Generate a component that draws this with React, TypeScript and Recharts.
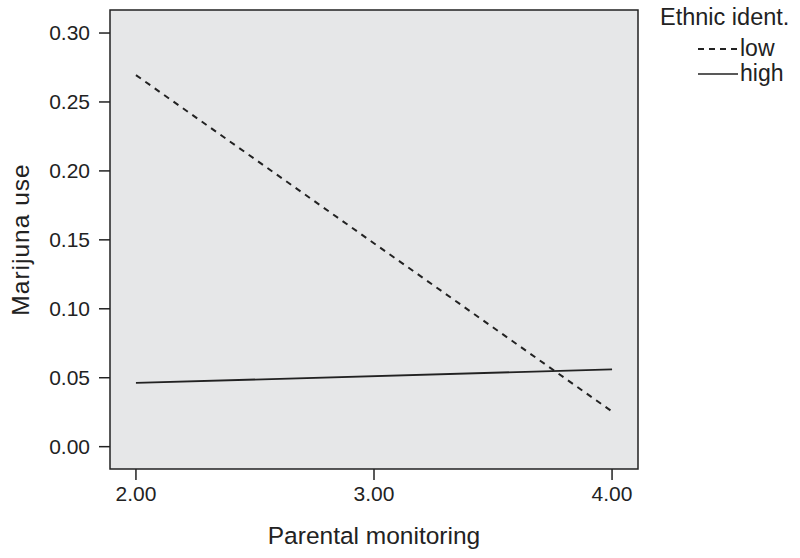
import {
  CartesianGrid,
  Line,
  LineChart,
  ReferenceArea,
  XAxis,
  YAxis,
} from 'recharts'

const monitoring = [2, 4]
const lowIdent = [0.2695, 0.0255]
const highIdent = [0.0462, 0.0561]
const xTicks = [2, 3, 4]
const yTicks = [0, 0.05, 0.1, 0.15, 0.2, 0.25, 0.3]

const X_DOMAIN: [number, number] = [1.891, 4.109]
const Y_DOMAIN: [number, number] = [-0.0162, 0.3167]

const data = monitoring.map((m, i) => ({ m, low: lowIdent[i], high: highIdent[i] }))

const FONT = 'Liberation Sans, Arial, Helvetica, sans-serif'
const INK = '#222'

function LegendBox() {
  const row = { display: 'flex', alignItems: 'center', paddingLeft: 38, height: 25, lineHeight: '25px' }
  return (
    <div
      style={{
        position: 'absolute',
        left: 660,
        top: 4,
        fontFamily: FONT,
        color: INK,
        fontSize: 23,
      }}
    >
      <div style={{ lineHeight: '27px', fontSize: 23.5 }}>Ethnic ident.</div>
      <div style={{ ...row, marginTop: 5 }}>
        <svg width={40} height={10}>
          <line x1={0} y1={5} x2={40} y2={5} stroke={INK} strokeWidth={1.8} strokeDasharray="6 5" />
        </svg>
        <span style={{ marginLeft: 2 }}>low</span>
      </div>
      <div style={row}>
        <svg width={40} height={10}>
          <line x1={0} y1={5} x2={40} y2={5} stroke={INK} strokeWidth={1.6} />
        </svg>
        <span style={{ marginLeft: 2 }}>high</span>
      </div>
    </div>
  )
}

export default function App() {
  return (
    <div style={{ position: 'absolute', left: 0, top: 0, width: 800, height: 558, background: '#fff' }}>
      <LineChart
        width={800}
        height={558}
        data={data}
        margin={{ top: 10, right: 162, bottom: 0, left: 0 }}
      >
        <CartesianGrid horizontal={false} vertical={false} fill="#e6e7e8" />
        <ReferenceArea
          x1={X_DOMAIN[0]}
          x2={X_DOMAIN[1]}
          y1={Y_DOMAIN[0]}
          y2={Y_DOMAIN[1]}
          fill="none"
          stroke={INK}
          strokeWidth={1.5}
          ifOverflow="visible"
        />
        <XAxis
          dataKey="m"
          type="number"
          domain={X_DOMAIN}
          ticks={xTicks}
          tickFormatter={(v: number) => v.toFixed(2)}
          height={89}
          tickSize={11}
          tickMargin={6}
          axisLine={false}
          tickLine={{ stroke: INK, strokeWidth: 1.5 }}
          tick={{ fontSize: 21, fill: INK, fontFamily: FONT }}
          label={{
            value: 'Parental monitoring',
            position: 'insideBottom',
            offset: 14,
            style: { fontSize: 24.5, fill: INK, fontFamily: FONT },
          }}
        />
        <YAxis
          type="number"
          domain={Y_DOMAIN}
          ticks={yTicks}
          tickFormatter={(v: number) => v.toFixed(2)}
          width={110}
          tickSize={11}
          tickMargin={9}
          axisLine={false}
          tickLine={{ stroke: INK, strokeWidth: 1.5 }}
          tick={{ fontSize: 21, fill: INK, fontFamily: FONT }}
          label={{
            value: 'Marijuna use',
            angle: -90,
            position: 'insideLeft',
            offset: 20,
            style: { fontSize: 24.5, fill: INK, fontFamily: FONT, textAnchor: 'middle', letterSpacing: 1 },
          }}
        />
        <Line
          dataKey="low"
          stroke={INK}
          strokeWidth={2}
          strokeDasharray="6 5.5"
          dot={false}
          isAnimationActive={false}
        />
        <Line
          dataKey="high"
          stroke={INK}
          strokeWidth={1.8}
          dot={false}
          isAnimationActive={false}
        />
      </LineChart>
      <LegendBox />
    </div>
  )
}
